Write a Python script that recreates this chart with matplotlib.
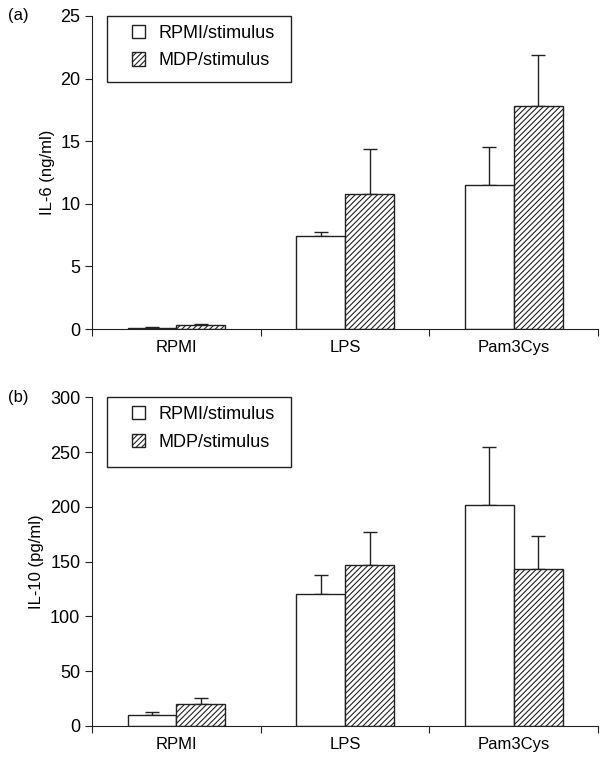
import numpy as np
import matplotlib.pyplot as plt
from matplotlib.patches import Rectangle

plt.rcParams['font.family'] = ['Liberation Sans', 'DejaVu Sans']
plt.rcParams['hatch.linewidth'] = 0.8

# data
groups = ['RPMI', 'LPS', 'Pam3Cys']
il6_rpmi = [0.1, 7.4, 11.5]
il6_rpmi_err = [0.1, 0.35, 3.0]
il6_mdp = [0.3, 10.8, 17.8]
il6_mdp_err = [0.1, 3.6, 4.1]

il10_rpmi = [10, 120, 202]
il10_rpmi_err = [3, 18, 53]
il10_mdp = [20, 147, 143]
il10_mdp_err = [5, 30, 30]

fig = plt.figure(figsize=(6.14, 7.6), dpi=100)
ax1 = fig.add_axes([0.150, 0.567, 0.824, 0.412])
ax2 = fig.add_axes([0.150, 0.045, 0.824, 0.432])

x = np.arange(len(groups))
w = 0.29


def draw(ax, a, aerr, b, berr, ymax, step, ylabel, tag):
    ax.bar(x - w / 2, a, w, color='white', edgecolor='#222222', linewidth=1.0,
           label='RPMI/stimulus', zorder=2)
    ax.bar(x + w / 2, b, w, color='white', edgecolor='#222222', linewidth=1.0,
           hatch='//////', label='MDP/stimulus', zorder=2)
    ax.errorbar(x - w / 2, a, yerr=[np.zeros(3), aerr], fmt='none', ecolor='#222222',
                elinewidth=1.0, capsize=5, capthick=1.0, zorder=1)
    ax.errorbar(x + w / 2, b, yerr=[np.zeros(3), berr], fmt='none', ecolor='#222222',
                elinewidth=1.0, capsize=5, capthick=1.0, zorder=1)
    ax.set_xlim(-0.5, 2.5)
    ax.set_ylim(0, ymax)
    ax.set_yticks(np.arange(0, ymax + 1, step))
    ax.set_xticks([-0.5, 0.5, 1.5, 2.5])
    ax.set_xticklabels([])
    ax.set_xticks(x, minor=True)
    ax.set_xticklabels(groups, minor=True, fontsize=12)
    ax.tick_params(axis='x', which='minor', length=0, pad=8)
    ax.tick_params(axis='x', which='major', length=5, direction='out', color='#222222')
    ax.tick_params(axis='y', length=5, labelsize=13, color='#222222')
    for s in ['top', 'right']:
        ax.spines[s].set_visible(False)
    for s in ['left', 'bottom']:
        ax.spines[s].set_color('#222222')
    ax.set_ylabel(ylabel, fontsize=12)
    ax.text(-0.166, 1.0, tag, transform=ax.transAxes, fontsize=12, va='center')
    # legend frame drawn separately to get the wider padding of the original
    ax.add_patch(Rectangle((0.03, 0.788), 0.363, 0.212, transform=ax.transAxes,
                           facecolor='white', edgecolor='#222222', linewidth=1.0,
                           zorder=4, clip_on=False))
    leg = ax.legend(loc='upper left', bbox_to_anchor=(0.068, 0.99), frameon=False,
                    fontsize=13, handlelength=0.75, handleheight=0.75, borderpad=0.3,
                    labelspacing=0.6, handletextpad=0.7, borderaxespad=0.0)
    leg.set_zorder(5)


draw(ax1, il6_rpmi, il6_rpmi_err, il6_mdp, il6_mdp_err, 25, 5, 'IL-6 (ng/ml)', '(a)')
draw(ax2, il10_rpmi, il10_rpmi_err, il10_mdp, il10_mdp_err, 300, 50, 'IL-10 (pg/ml)', '(b)')

fig.savefig('out.png', dpi=100)
